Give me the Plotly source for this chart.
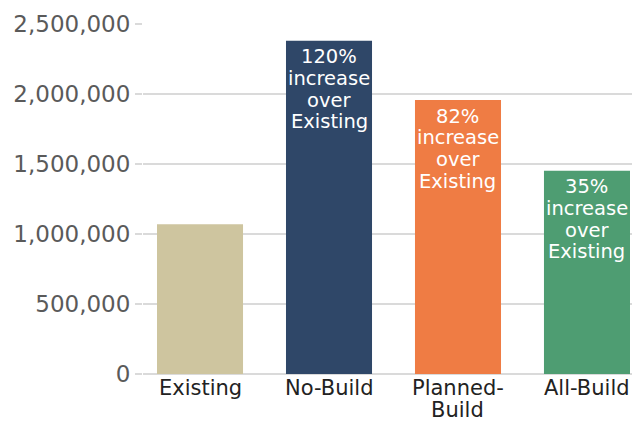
import plotly.graph_objects as go

categories = ["Existing", "No-Build", "Planned-<br>Build", "All-Build"]
values = [1070000, 2380000, 1957000, 1452000]
colors = ["#CEC59F", "#2F4768", "#EF7C44", "#4E9D72"]
labels = ["", "120%<br>increase<br>over<br>Existing", "82%<br>increase<br>over<br>Existing",
          "35%<br>increase<br>over<br>Existing"]
yticks = [0, 500000, 1000000, 1500000, 2000000, 2500000]

xpos = list(range(len(categories)))

fig = go.Figure()
fig.add_trace(go.Bar(
    x=xpos, y=values, marker=dict(color=colors, line=dict(width=0)),
    width=0.667, hoverinfo="skip",
))

# in-bar labels, one annotation per line for tight line spacing
for xi, v, t in zip(xpos, values, labels):
    if not t:
        continue
    for i, line in enumerate(t.split("<br>")):
        fig.add_annotation(x=xi, y=v, text=line, showarrow=False, xanchor="center",
                           yanchor="middle", yshift=-(16 + i * 21.7),
                           font=dict(family="DejaVu Sans", size=19.5, color="white"))

# category labels under the bars
for xi, c in zip(xpos, categories):
    for i, line in enumerate(c.split("<br>")):
        fig.add_annotation(x=xi, y=0, text=line, showarrow=False, xanchor="center",
                           yanchor="middle", yshift=-(14 + i * 21.5),
                           borderpad=0,
                           font=dict(family="DejaVu Sans", size=21, color="#222222"))

# page body has an 8px margin, so the figure is sized to fit inside the window
fig.update_layout(
    width=632, height=415,
    margin=dict(l=135, r=0, t=16, b=49),
    paper_bgcolor="white", plot_bgcolor="white",
    showlegend=False,
    xaxis=dict(range=[-0.442, 3.411], tickvals=xpos, showticklabels=False,
               showgrid=False, zeroline=False, showline=False, ticks="",
               automargin=False, fixedrange=True),
    yaxis=dict(range=[0, 2500000], tickvals=yticks, tickformat=",d",
               showgrid=True, gridcolor="#DADADA", gridwidth=1.5,
               zeroline=True, zerolinecolor="#DADADA", zerolinewidth=1.5,
               ticks="outside", ticklen=7, tickcolor="#DADADA", tickwidth=1.5,
               automargin=False,
               tickfont=dict(family="DejaVu Sans", size=23, color="#5A5A5A"),
               fixedrange=True),
)

fig.write_html("out.html")
